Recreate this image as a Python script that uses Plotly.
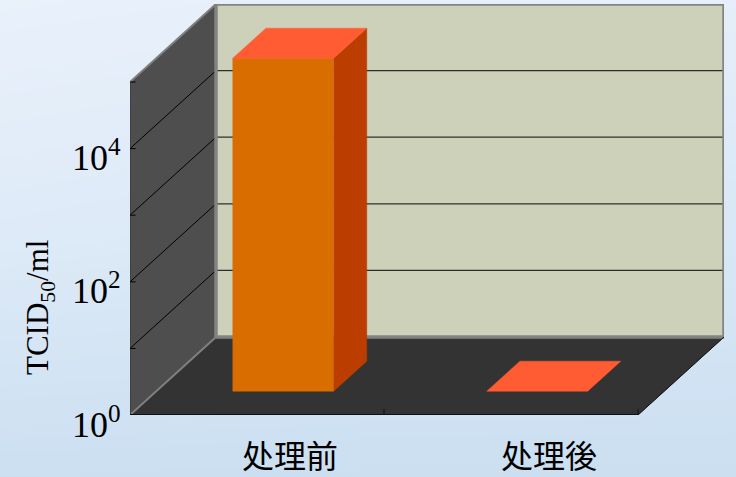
import numpy as np
import plotly.graph_objects as go

# Chart data
categories = ["处理前", "处理後"]
category_label_offsets = [0.13, 0.148]
titers = [1e5, 1.0]
tick_exponents = [0, 2, 4]
grid_exponents = [0, 1, 2, 3, 4, 5]
axis_title = "TCID<sub>50</sub>/ml"

# Oblique projection of the chart box, in axis units
DEPTH_X = 86 / 254      # category widths per full depth
DEPTH_Y = 78 / 66.6     # decades per full depth
TOP_EXP = 5
BAR_WIDTH = 0.397
BAR_NEAR, BAR_FAR = 0.305, 0.69
X0, X1 = -0.5, 1.5


def project(x, exponent, depth=0.0):
    """Map (category position, log10 value, depth) onto the plane of the axes."""
    return x + depth * DEPTH_X, 10 ** (exponent + depth * DEPTH_Y)


def polygon(points, fill, line=None, width=0, **kw):
    xs, ys = zip(*[project(*p) for p in points + points[:1]])
    return go.Scatter(x=xs, y=ys, xaxis="x2", yaxis="y2", mode="lines", fill="toself",
                      fillcolor=fill, line=dict(color=line or fill, width=width or 0.5),
                      hoverinfo="skip", showlegend=False, **kw)


def segments(pairs, color, width):
    xs, ys = [], []
    for a, b in pairs:
        for p in (a, b):
            x, y = project(*p)
            xs.append(x)
            ys.append(y)
        xs.append(None)
        ys.append(None)
    return go.Scatter(x=xs, y=ys, xaxis="x2", yaxis="y2", mode="lines",
                      line=dict(color=color, width=width),
                      hoverinfo="skip", showlegend=False)


fig = go.Figure()

# Page background: soft blue wash
bg = np.array([[1.00, 0.92, 0.86], [0.62, 0.50, 0.45], [0.02, 0.0, 0.0]])
fig.add_trace(go.Heatmap(z=bg, zsmooth="best", showscale=False, hoverinfo="skip",
                         y=[2, 1, 0], x=[0, 1, 2], zmin=0, zmax=1,
                         colorscale=[[0, "#cbdff1"], [1, "#e9f1fb"]]))

# Walls and floor
fig.add_trace(polygon([(X0, 0, 0), (X0, TOP_EXP, 0), (X0, TOP_EXP, 1), (X0, 0, 1)], "#4e4e4e"))
fig.add_trace(polygon([(X0, 0, 0), (X1, 0, 0), (X1, 0, 1), (X0, 0, 1)], "#333333"))
fig.add_trace(polygon([(X0, 0, 1), (X1, 0, 1), (X1, TOP_EXP, 1), (X0, TOP_EXP, 1)], "#cdd1ba"))

# Gridlines across the back wall and the side wall
fig.add_trace(segments([((X0, e, 1), (X1, e, 1)) for e in grid_exponents[1:]], "#2e2e2e", 1.2))
fig.add_trace(segments([((X0, e, 0), (X0, e, 1)) for e in grid_exponents[1:]], "#000000", 1))

# Light frame around the back wall and along the wall's top and bottom edges
fig.add_trace(segments([((X0, 0, 1), (X0, TOP_EXP, 1)), ((X0, TOP_EXP, 1), (X1, TOP_EXP, 1)),
                        ((X1, TOP_EXP, 1), (X1, 0, 1)), ((X1, 0, 1), (X0, 0, 1))], "#808583", 3.5))
fig.add_trace(segments([((X0, TOP_EXP, 0), (X0, TOP_EXP, 1)), ((X0, 0, 0), (X0, 0, 1))], "#808080", 2))

# Floor edge on the right and the axis lines with their inward ticks
fig.add_trace(segments([((X1, 0, 0), (X1, 0, 1))], "#111111", 1))
fig.add_trace(segments([((X0, 0, 0), (X0, TOP_EXP, 0))], "#3c3c3c", 1.5))
fig.add_trace(segments([((X0, 0, 0), (X1, 0, 0))], "#111111", 2))
fig.add_trace(segments([((X0, e, 0), (X0 + 0.022, e, 0)) for e in grid_exponents], "#000000", 1))
fig.add_trace(segments([((t, 0, 0), (t, 0.09, 0)) for t in (0.5, 1.5)], "#111111", 1))

# Bars: front, side and top faces all derive from the titer
for i, value in enumerate(titers):
    e = float(np.log10(value))
    L, R = i - BAR_WIDTH / 2, i + BAR_WIDTH / 2
    n, f = BAR_NEAR, BAR_FAR
    if e > 0:
        fig.add_trace(polygon([(R, 0, n), (R, 0, f), (R, e, f), (R, e, n)], "#bb3d00"))
        fig.add_trace(polygon([(L, 0, n), (R, 0, n), (R, e, n), (L, e, n)], "#d96d00"))
    fig.add_trace(polygon([(L, e, n), (R, e, n), (R, e, f), (L, e, f)], "#ff5c33"))

fig.update_layout(
    width=736, height=477, margin=dict(l=0, r=0, t=0, b=0),
    paper_bgcolor="#dce9f6", plot_bgcolor="rgba(0,0,0,0)", showlegend=False,
    xaxis=dict(domain=[0, 1], range=[0, 2], visible=False),
    yaxis=dict(domain=[0, 1], range=[0, 2], visible=False),
    xaxis2=dict(domain=[130 / 736, 724 / 736], range=[X0, X1 + DEPTH_X], visible=False, anchor="y2"),
    yaxis2=dict(domain=[62 / 477, 473 / 477], type="log", range=[0, TOP_EXP + DEPTH_Y],
                visible=False, anchor="x2"),
)

serif = "Liberation Serif"
for e in tick_exponents:
    fig.add_annotation(xref="x2", yref="y2", x=X0, y=e, text=f"10<sup>{e}</sup>", showarrow=False,
                       xanchor="right", yanchor="middle", xshift=-7, yshift=-7,
                       font=dict(family=serif, size=36, color="#000000"))
for i, cat in enumerate(categories):
    fig.add_annotation(xref="x2", yref="paper", x=i + category_label_offsets[i], y=0, text=cat,
                       showarrow=False, xanchor="center", yanchor="bottom", yshift=-2,
                       font=dict(family="Noto Sans CJK JP", size=32, color="#000000"))
fig.add_annotation(xref="paper", yref="paper", x=40 / 736, y=1 - 308 / 477, text=axis_title,
                   textangle=-90, showarrow=False, xanchor="center", yanchor="middle",
                   font=dict(family=serif, size=31, color="#000000"))

fig.write_html("out.html")
